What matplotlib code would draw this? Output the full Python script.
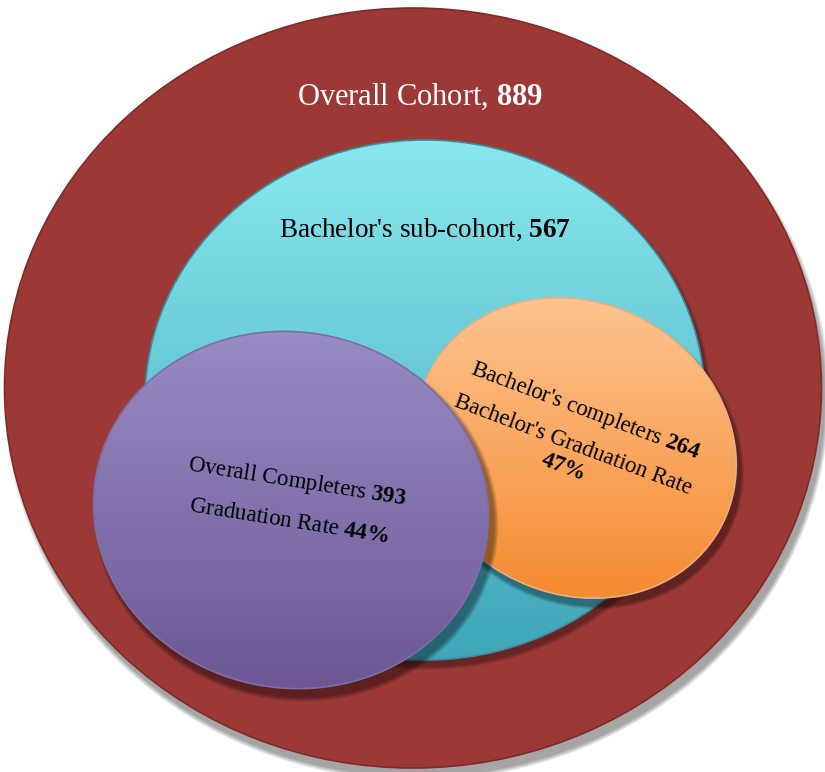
import numpy as np
import matplotlib
matplotlib.use("Agg")
import matplotlib.pyplot as plt
from matplotlib.patches import Ellipse
from matplotlib.colors import to_rgb

# ---- data ----
group_names = ["Overall Cohort", "Bachelor's sub-cohort",
               "Bachelor's completers", "Overall Completers"]
group_counts = [889, 567, 264, 393]
rate_names = ["Bachelor's Graduation Rate", "Graduation Rate"]
rate_values = [47, 44]

plt.rcParams['mathtext.fontset'] = 'custom'
plt.rcParams['mathtext.rm'] = 'Liberation Serif'
plt.rcParams['mathtext.it'] = 'Liberation Serif:italic'
plt.rcParams['mathtext.bf'] = 'Liberation Serif:bold'
FONT = 'Liberation Serif'

W, H = 825, 772
fig = plt.figure(figsize=(W / 100, H / 100), dpi=100)
ax = fig.add_axes([0, 0, 1, 1])
ax.set_xlim(0, W)
ax.set_ylim(H, 0)
ax.axis('off')


def shadow(cx, cy, w, h, ang, dx, dy, z, alpha=0.06, n=8, spread=10):
    for i in range(n):
        g = spread * (i + 1) / n
        ax.add_patch(Ellipse((cx + dx, cy + dy), w + g, h + g, angle=ang,
                             facecolor='black', edgecolor='none',
                             alpha=alpha, zorder=z))


def grad_ellipse(cx, cy, w, h, ang, ctop, cbot, z, edge=None, lw=1.2):
    e = Ellipse((cx, cy), w, h, angle=ang, facecolor='none',
                edgecolor='none', zorder=z)
    ax.add_patch(e)
    r = max(w, h) / 2 + 5
    t = np.linspace(0, 1, 256)[:, None, None]
    c0 = np.array(to_rgb(ctop))[None, None, :]
    c1 = np.array(to_rgb(cbot))[None, None, :]
    img = c0 * (1 - t) + c1 * t
    im = ax.imshow(img, extent=(cx - r, cx + r, cy + r, cy - r),
                   origin='upper', aspect='auto', zorder=z,
                   interpolation='bilinear')
    im.set_clip_path(e)
    if edge is not None:
        ax.add_patch(Ellipse((cx, cy), w, h, angle=ang, facecolor='none',
                             edgecolor=edge, lw=lw, zorder=z + 0.1))


# outer ellipse
shadow(414, 392, 815, 758, 0, 3, 5, 1, alpha=0.05, n=8, spread=10)
ax.add_patch(Ellipse((413, 388), 817, 760, facecolor='#9C3937',
                     edgecolor='#7E2B2A', lw=1.2, zorder=2))

# cyan ellipse
shadow(425, 400, 560, 520, 0, 3, 6, 3, alpha=0.06, n=6, spread=8)
grad_ellipse(425, 400, 560, 520, 0, '#8DEBF1', '#3BA3B6', 4, edge='#3A8E9E')

# orange ellipse
shadow(576, 448, 330, 290, 30, 4, 7, 5, alpha=0.07, n=6, spread=8)
grad_ellipse(576, 448, 330, 290, 30, '#FEC897', '#F5872A', 6, edge='#E8B080')

# purple ellipse
shadow(291, 510, 396, 356, 10, 5, 8, 7, alpha=0.08, n=6, spread=10)
grad_ellipse(291, 510, 396, 356, 10, '#9B90C7', '#6A5392', 8, edge='#7C6FA6')

# ---- labels ----
ax.text(420, 97, f"{group_names[0]}, $\\mathbf{{{group_counts[0]}}}$",
        color='white', fontsize=22, family=FONT, ha='center', va='center',
        zorder=20)
ax.text(425, 230, f"{group_names[1]}, $\\mathbf{{{group_counts[1]}}}$",
        color='black', fontsize=19.5, family=FONT, ha='center', va='center',
        zorder=20)

ax.text(585, 411, f"{group_names[2]} $\\mathbf{{{group_counts[2]}}}$",
        color='black', fontsize=16.5, family=FONT, ha='center', va='center',
        rotation=-20.5, rotation_mode='anchor', zorder=20)
ax.text(573, 445, rate_names[0],
        color='black', fontsize=16.5, family=FONT, ha='center', va='center',
        rotation=-20.5, rotation_mode='anchor', zorder=20)
ax.text(563, 467, f"$\\mathbf{{{rate_values[0]}\\%}}$",
        color='black', fontsize=16.5, family=FONT, ha='center', va='center',
        rotation=-20.5, rotation_mode='anchor', zorder=20)

ax.text(297, 482, f"{group_names[3]} $\\mathbf{{{group_counts[3]}}}$",
        color='black', fontsize=16.5, family=FONT, ha='center', va='center',
        rotation=-9, rotation_mode='anchor', zorder=20)
ax.text(289, 521, f"{rate_names[1]} $\\mathbf{{{rate_values[1]}\\%}}$",
        color='black', fontsize=16.5, family=FONT, ha='center', va='center',
        rotation=-9, rotation_mode='anchor', zorder=20)

fig.savefig("out.png", dpi=100, facecolor='white')
